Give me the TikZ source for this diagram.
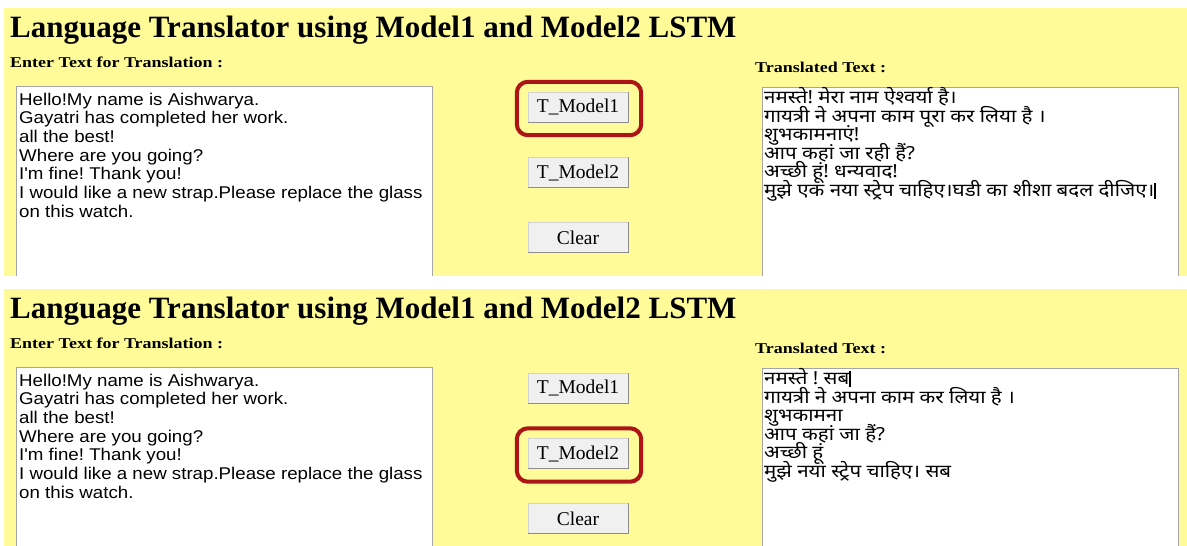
\documentclass[tikz,border=0pt]{standalone}
\usepackage{fontspec}
\usepackage{graphicx}
\setmainfont{Liberation Serif}
\newfontfamily\uisans{Liberation Sans}
\newfontfamily\deva[Script=Devanagari]{Noto Sans}
\usetikzlibrary{fit}
\frenchspacing
\definecolor{panelyellow}{RGB}{254,251,152}
\definecolor{ringred}{RGB}{172,20,22}
\definecolor{btnface}{RGB}{240,240,240}
\definecolor{btnedge}{RGB}{210,210,210}
\definecolor{btnshade}{RGB}{140,140,140}
\definecolor{fieldedge}{RGB}{165,165,165}
% text set a little wider than the font's natural width
\newcommand\wide[2]{\scalebox{#1}[1]{#2}}
\tikzset{
  heading/.style={anchor=base west, inner sep=0, font=\bfseries\fontsize{31}{34}\selectfont},
  fieldlabel/.style={anchor=base west, inner sep=0, font=\bfseries\fontsize{15}{17}\selectfont},
  srcline/.style={anchor=base west, inner sep=0, font=\uisans\fontsize{17}{18.7}\selectfont},
  dstline/.style={anchor=base west, inner sep=0, font=\deva\fontsize{18}{18.6}\selectfont},
  button/.style={draw=btnedge, fill=btnface, minimum width=100pt, minimum height=30pt,
    inner sep=0, font=\fontsize{19.5}{20}\selectfont},
  ring/.style={draw=ringred, line width=4pt, rounded corners=11pt, inner xsep=12pt, inner ysep=11.5pt},
  fieldframe/.style={draw=fieldedge, line width=1pt},
}
% One window of the translator: #1 name prefix, #2 output lines, #3 pressed button
\newcommand\uipanel[3]{%
  \fill[panelyellow] (4,8) rectangle (1187,276);
  \node[heading] (#1title) at (10,37) {Language Translator using Model1 and Model2 LSTM};
  \node[fieldlabel] (#1srclabel) at (10,67) {\wide{1.2}{Enter Text for Translation :}};
  \node[fieldlabel] (#1dstlabel) at (755,72) {\wide{1.2}{Translated Text :}};
  % input and output text areas
  \fill[white] (16,86) rectangle (432,276);
  \draw[fieldframe] (16,276) -- (16,86) -- (432,86) -- (432,276);
  \fill[white] (762,87) rectangle (1178,276);
  \draw[fieldframe] (762,276) -- (762,87) -- (1178,87) -- (1178,276);
  \foreach \s [count=\i] in {{Hello!My name is Aishwarya.},{Gayatri has completed her work.},
      {all the best!},{Where are you going?},{I'm fine! Thank you!},
      {I would like a new strap.Please replace the glass},{on this watch.}}
    \node[srcline] (#1src\i) at (19,{105+18.7*(\i-1)}) {\wide{1.1}{\s}};
  \foreach \s [count=\i] in {#2}
    \node[dstline] (#1dst\i) at (764,{103.5+18.6*(\i-1)}) {\wide{1.14}{\s}};
  % buttons
  \node[button] (#1b1) at (578,107) {T\_Model1};
  \node[button] (#1b2) at (578,172.5) {T\_Model2};
  \node[button] (#1b3) at (578,237.5) {Clear};
  \foreach \k in {1,2,3}
    \draw[btnshade, line width=1.3pt] (#1b\k.north east) -- (#1b\k.south east) -- (#1b\k.south west);
  \node[ring, fit=(#1b#3), xshift=1pt, yshift=-1.5pt] (#1ring) {};
}
\begin{document}
\begin{tikzpicture}[x=1pt, y=-1pt]
  \useasboundingbox (0,0) rectangle (1187,546);
  \fill[white] (0,0) rectangle (1187,546);
  \clip (0,0) rectangle (1187,546);
  \uipanel{a}{{नमस्ते! मेरा नाम ऐश्वर्या है।},{गायत्री ने अपना काम पूरा कर लिया है ।},
    {शुभकामनाएं!},{आप कहां जा रही हैं?},{अच्छी हूं! धन्यवाद!},
    {मुझे एक नया स्ट्रेप चाहिए।घडी का शीशा बदल दीजिए।\rule[-2pt]{1.6pt}{16pt}}}{1}
  \begin{scope}[yshift=-281pt]
    \uipanel{b}{{नमस्ते ! सब\rule[-2pt]{1.6pt}{16pt}},{गायत्री ने अपना काम कर लिया है ।},
      {शुभकामना},{आप कहां जा हैं?},{अच्छी हूं},{मुझे नया स्ट्रेप चाहिए। सब}}{2}
  \end{scope}
\end{tikzpicture}
\end{document}
